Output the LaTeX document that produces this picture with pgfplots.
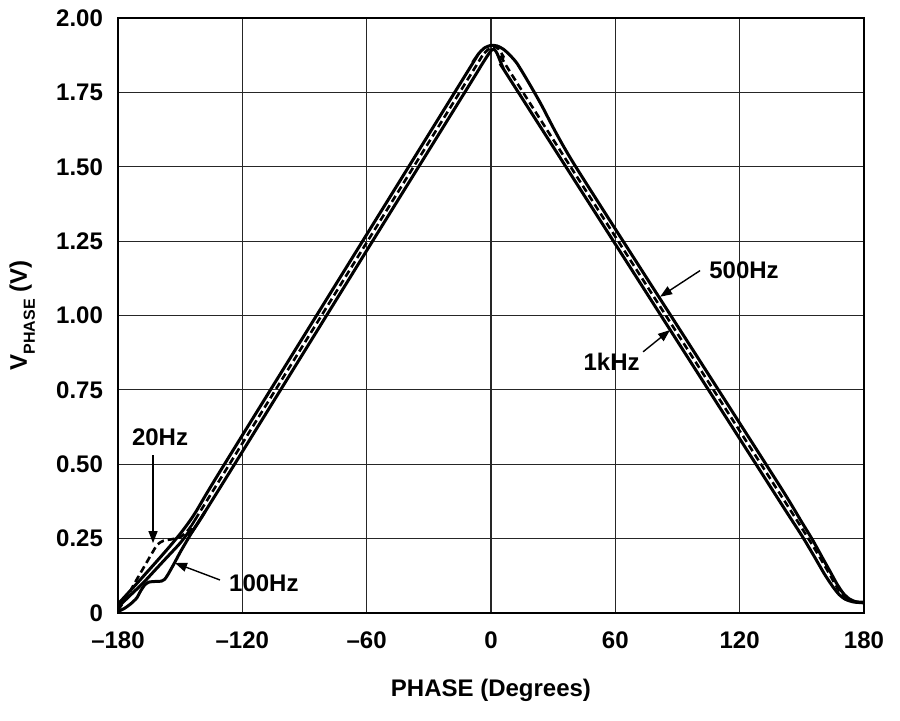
\documentclass[border=0pt]{standalone}
\usepackage{fontspec}
\setmainfont{Liberation Sans}
\usepackage{pgfplots}
\pgfplotsset{compat=1.18}
\usetikzlibrary{arrows.meta}
\begin{document}
\begin{tikzpicture}
\begin{axis}[
  at={(0,0)}, anchor=south west,
  scale only axis, width=373pt, height=297.5pt,
  xmin=-180, xmax=180, ymin=0, ymax=2,
  xtick={-180,-120,-60,0,60,120,180},
  xticklabels={\textendash180,\textendash120,\textendash60,0,60,120,180},
  ytick={0,0.25,0.5,0.75,1,1.25,1.5,1.75,2},
  yticklabels={0,0.25,0.50,0.75,1.00,1.25,1.50,1.75,2.00},
  major tick length=0pt,
  grid=major,
  major grid style={line width=0.6pt, black!85},
  axis line style={line width=1.2pt},
  ticklabel style={font=\fontsize{12}{14}\selectfont\bfseries},
  xticklabel style={yshift=-6pt},
  yticklabel style={xshift=-4pt},
]
% 500Hz
\addplot[line width=1.5pt, smooth, tension=0.4] coordinates {
(-180,0.03) (-175,0.068) (-170,0.106) (-165,0.145) (-160,0.184) (-155,0.224) (-150,0.266) (-146,0.303) (-142,0.345) (-130,0.4845) (-60,1.272) (-10,1.8345) (-6,1.8795) (-3,1.9) (0,1.908)
(3,1.906) (6,1.895) (9,1.876) (12.5,1.848) (18,1.785) (24,1.712) (40,1.51) (100,0.856) (140,0.42) (150,0.305) (155,0.248) (160,0.185) (164,0.135) (167,0.097) (170,0.066) (173,0.047) (176,0.038) (180,0.036)
};
% 1kHz
\addplot[line width=1.5pt, smooth, tension=0.4] coordinates {
(-180,0.02) (-174,0.06) (-168,0.1) (-162,0.145) (-156,0.19) (-150,0.235) (-145,0.28) (-140,0.318) (-60,1.218) (-10,1.78) (-5,1.837) (-2,1.87) (0,1.89) (1.5,1.895) (3,1.88) (6,1.83) (10,1.785)
(100,0.804) (140,0.368) (150,0.26) (156,0.19) (161,0.13) (165,0.088) (168,0.062) (171,0.046) (175,0.037) (180,0.034)
};
% 100Hz
\addplot[line width=1.5pt, smooth, tension=0.4] coordinates {
(-180,0.005) (-177,0.015) (-174,0.03) (-171,0.05) (-169,0.075) (-167,0.095) (-165,0.104) (-162,0.106) (-159,0.107) (-157.5,0.113) (-156,0.128) (-153,0.165) (-150,0.204) (-147,0.24) (-144,0.275) (-140,0.318) (-138,0.3405)
};
% 20Hz
\addplot[line width=1.3pt, dash pattern=on 3.5pt off 2pt, smooth, tension=0.4] coordinates {
(-180,0.01) (-176,0.05) (-172,0.10) (-168,0.148) (-164,0.196) (-161,0.23) (-158,0.243) (-154,0.248) (-150,0.255) (-146,0.28) (-142,0.322) (-140,0.345) (-60,1.245) (-8,1.83) (-4,1.875) (0,1.902) (3,1.9) (6,1.87) (10,1.81)
(100,0.83) (145,0.34) (152,0.263) (158,0.195) (163,0.135) (167,0.085) (170,0.058) (173,0.043) (177,0.036) (180,0.035)
};
\begin{scope}[font=\fontsize{12}{14}\selectfont\bfseries]
\node at (axis cs:-159.7,0.592) {20Hz};
\node at (axis cs:-109.6,0.101) {100Hz};
\node at (axis cs:122.1,1.153) {500Hz};
\node at (axis cs:58.2,0.845) {1kHz};
\end{scope}
\begin{scope}[line width=0.7pt, -{Triangle[length=6pt,width=4.5pt]}]
\draw (axis cs:-163.1,0.531) -- (axis cs:-163.1,0.235);
\draw (axis cs:-130.8,0.111) -- (axis cs:-152.5,0.168);
\draw (axis cs:100.9,1.151) -- (axis cs:81.6,1.063);
\draw (axis cs:73.4,0.878) -- (axis cs:86.4,0.951);
\end{scope}
\end{axis}
\node[anchor=base, font=\fontsize{12}{14}\selectfont\bfseries] at (186.5pt,-42pt) {PHASE (Degrees)};
\node[rotate=90, anchor=base, font=\fontsize{12}{14}\selectfont\bfseries] at (-45.5pt,148.75pt) {V\raisebox{-4pt}{\fontsize{8}{9}\selectfont PHASE} (V)};
\pgfresetboundingbox
\useasboundingbox (-59pt,-54pt) rectangle (391pt,306.5pt);
\end{tikzpicture}
\end{document}
